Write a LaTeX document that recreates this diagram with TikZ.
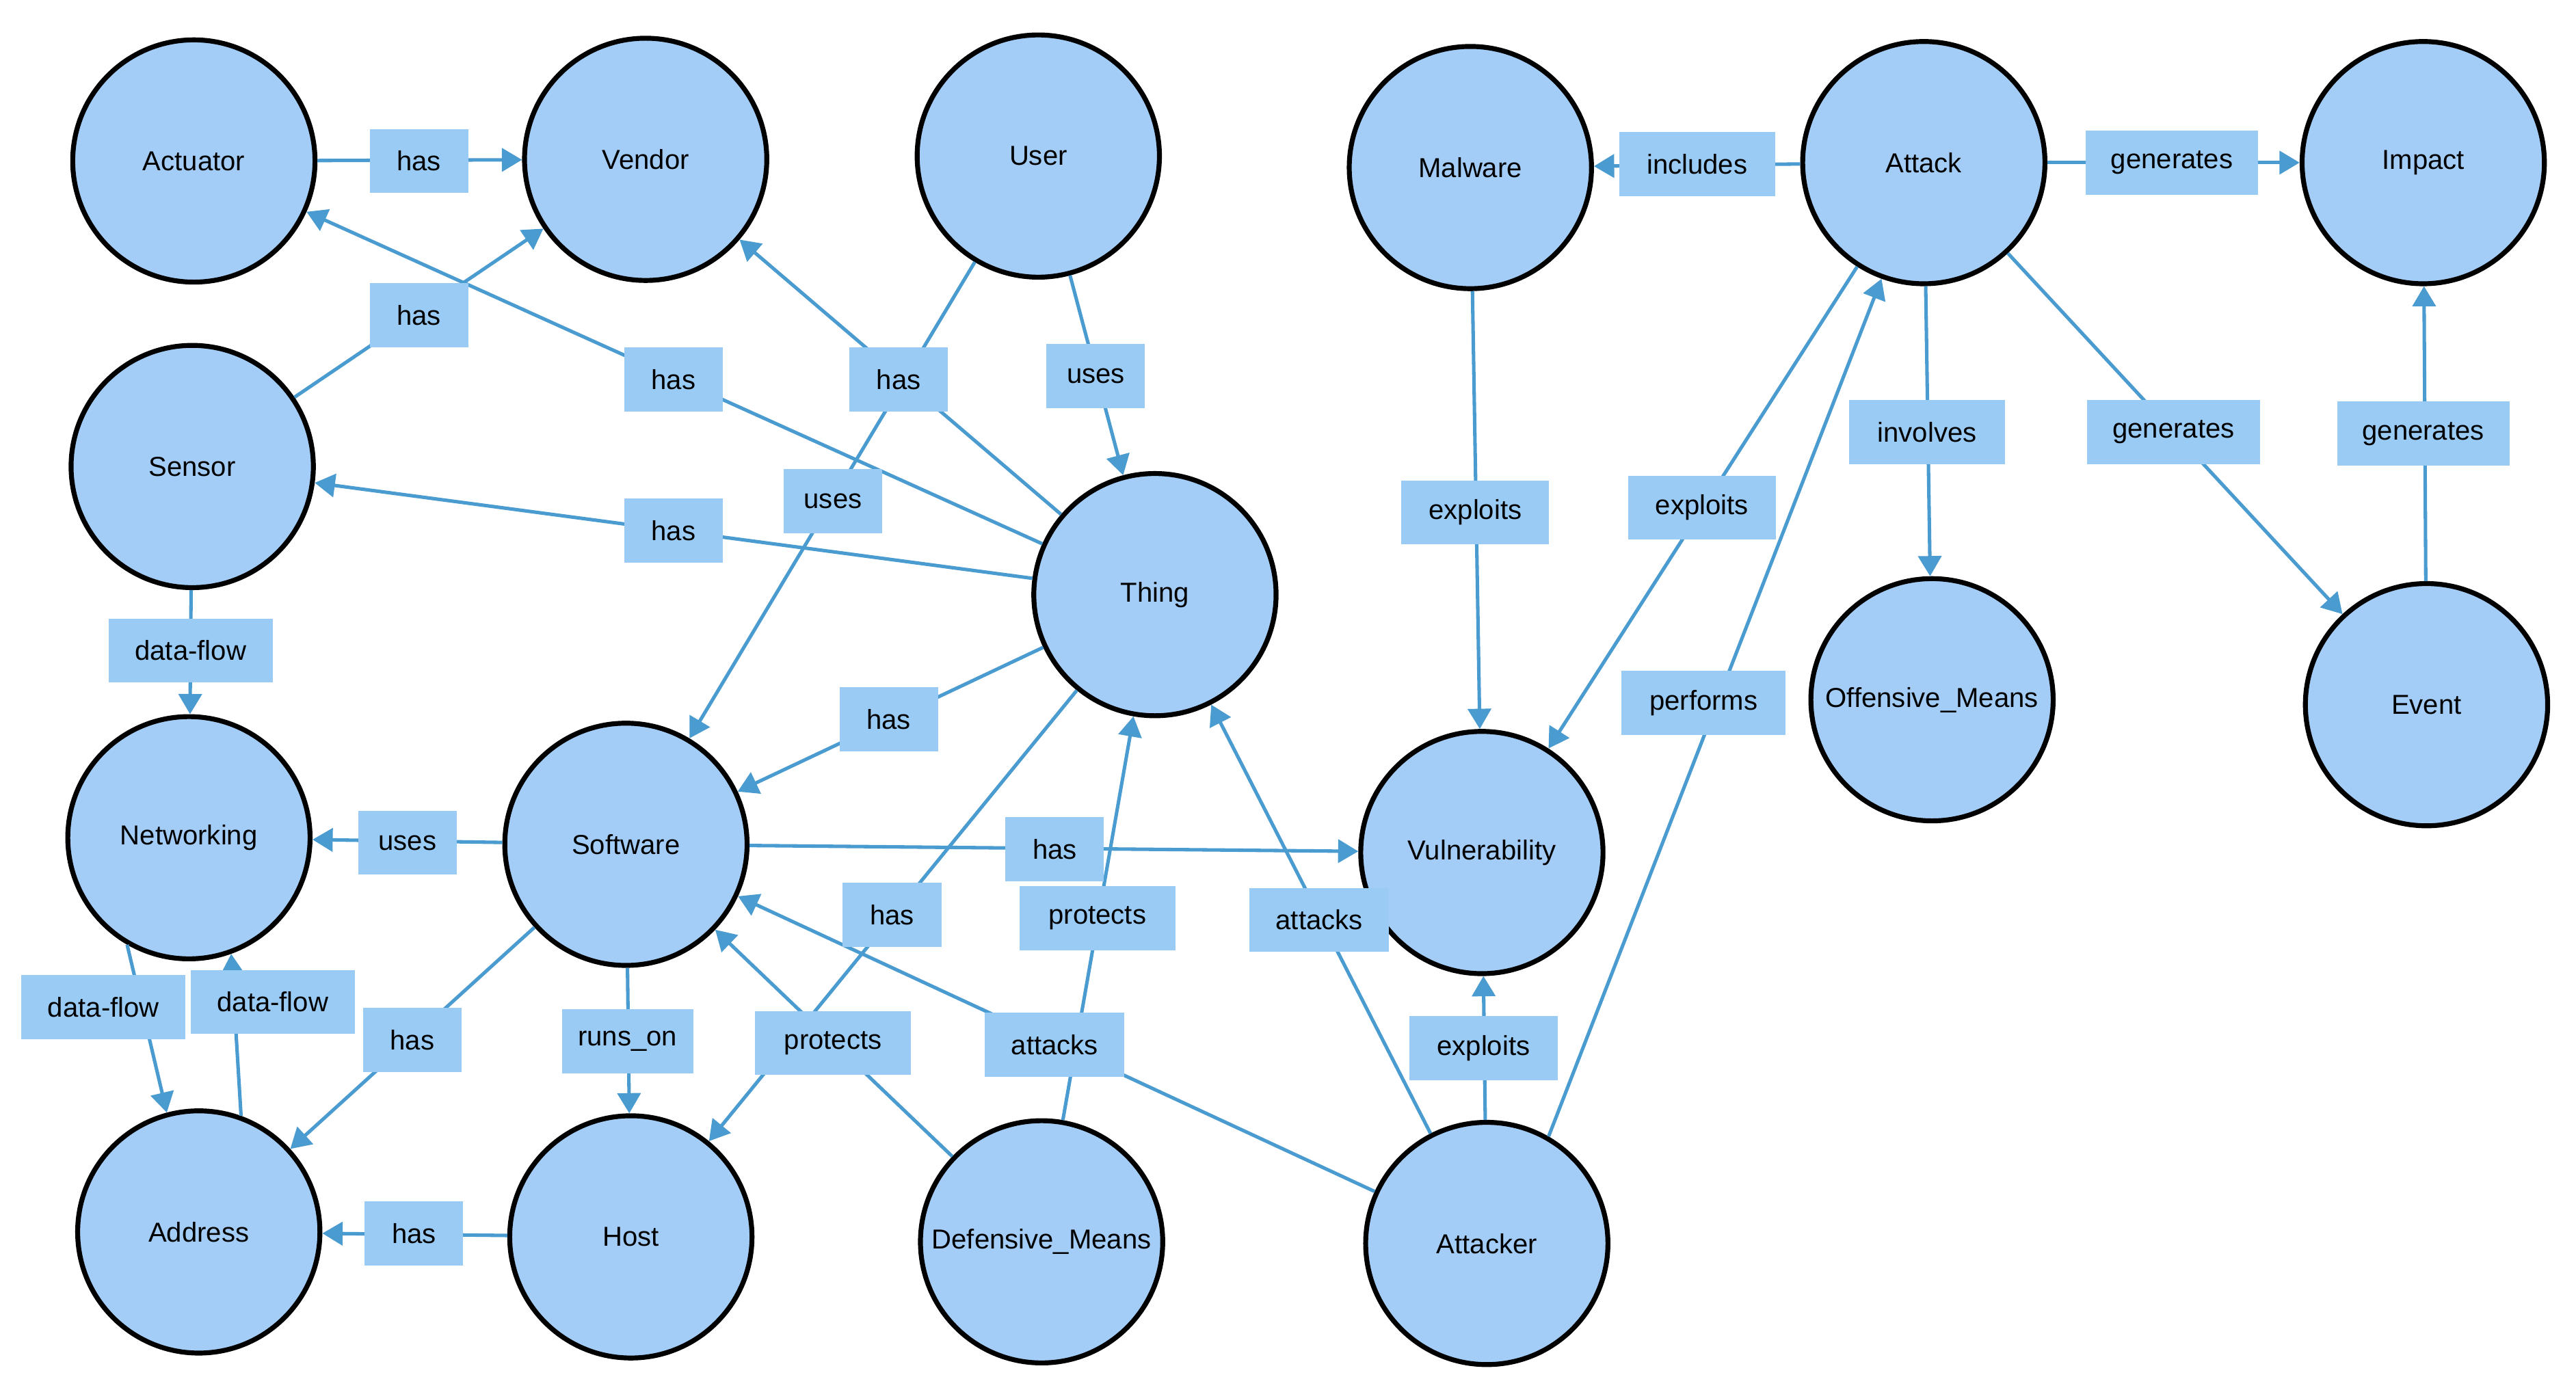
\documentclass[tikz,border=0pt]{standalone}
\usepackage{fontspec}
\setmainfont{Liberation Sans}
\usetikzlibrary{arrows.meta}
\definecolor{cfill}{HTML}{A3CDF7}
\definecolor{lfill}{HTML}{9ACBF5}
\definecolor{ecol}{HTML}{4A9BD0}
\begin{document}
\begin{tikzpicture}[x=0.02cm,y=-0.02cm,
  ent/.style={circle,draw=black,line width=1.7pt,fill=cfill,minimum size=2.95cm,inner sep=0pt,font=\fontsize{9.5}{11}\selectfont},
  lab/.style={fill=lfill,inner sep=0pt,minimum height=0.78cm,text width=#1,align=center,font=\fontsize{9.5}{11}\selectfont},
  lab/.default=1.2cm,
  e/.style={draw=ecol,line width=1.2pt,-{Triangle[length=7pt,width=8pt]}}]
\useasboundingbox[fill=white] (0,0) rectangle (1568,846);
\node[ent] (act) at (118,98) {Actuator};
\node[ent] (ven) at (393,97) {Vendor};
\node[ent] (usr) at (632,95) {User};
\node[ent] (mal) at (895,102) {Malware};
\node[ent] (atk) at (1171,99) {Attack};
\node[ent] (imp) at (1475,99) {Impact};
\node[ent] (sen) at (117,284) {Sensor};
\node[ent] (thg) at (703,362) {Thing};
\node[ent] (off) at (1176,426) {Offensive\_Means};
\node[ent] (evt) at (1477,429) {Event};
\node[ent] (net) at (115,510) {Networking};
\node[ent] (sw) at (381,514) {Software};
\node[ent] (vul) at (902,519) {Vulnerability};
\node[ent] (adr) at (121,750) {Address};
\node[ent] (hst) at (384,753) {Host};
\node[ent] (def) at (634,756) {Defensive\_Means};
\node[ent] (atr) at (905,757) {Attacker};
% edges
\draw[e] (act) -- (ven);
\draw[e] (sen) -- (ven);
\draw[e] (thg) -- (act);
\draw[e] (thg) -- (ven);
\draw[e] (usr) -- (sw);
\draw[e] (usr) -- (thg);
\draw[e] (thg) -- (sen);
\draw[e] (sen) -- (net);
\draw[e] (thg) -- (sw);
\draw[e] (sw) -- (net);
\draw[e] (sw) -- (vul);
\draw[e] (net.240) -- (adr.105);
\draw[e] (adr.70) -- (net.290);
\draw[e] (sw) -- (adr);
\draw[e] (sw) -- (hst);
\draw[e] (hst) -- (adr);
\draw[e] (def) -- (sw);
\draw[e] (thg) -- (hst);
\draw[e] (def) -- (thg.260);
\draw[e] (atr) -- (sw);
\draw[e] (atr) -- (thg);
\draw[e] (atr) -- (vul);
\draw[e] (atr.60) -- (atk.250);
\draw[e] (mal) -- (vul);
\draw[e] (atk) -- (vul);
\draw[e] (atk) -- (mal);
\draw[e] (atk) -- (imp);
\draw[e] (atk) -- (off);
\draw[e] (atk) -- (evt);
\draw[e] (evt) -- (imp);
% labels
\node[lab] (l1) at (255,98) {has};
\node[lab] (l2) at (255,192) {has};
\node[lab] (l3) at (410,231) {has};
\node[lab] (l4) at (547,231) {has};
\node[lab] (l5) at (507,305) {uses};
\node[lab] (l6) at (667,229) {uses};
\node[lab] (l7) at (410,323) {has};
\node[lab=2cm] (l8) at (116,396) {data-flow};
\node[lab] (l9) at (541,438) {has};
\node[lab] (l10) at (248,513) {uses};
\node[lab] (l11) at (642,517) {has};
\node[lab=2cm] (l12) at (63,613) {data-flow};
\node[lab=2cm] (l13) at (166,610) {data-flow};
\node[lab] (l14) at (251,633) {has};
\node[lab=1.6cm] (l15) at (382,634) {runs\_on};
\node[lab] (l16) at (252,751) {has};
\node[lab=1.9cm] (l17) at (507,635) {protects};
\node[lab] (l18) at (543,557) {has};
\node[lab=1.9cm] (l19) at (668,559) {protects};
\node[lab=1.7cm] (l20) at (642,636) {attacks};
\node[lab=1.7cm] (l21) at (803,560) {attacks};
\node[lab=1.8cm] (l22) at (903,638) {exploits};
\node[lab=2cm] (l23) at (1037,428) {performs};
\node[lab=1.8cm] (l24) at (898,312) {exploits};
\node[lab=1.8cm] (l25) at (1036,309) {exploits};
\node[lab=1.9cm] (l26) at (1033,100) {includes};
\node[lab=2.1cm] (l27) at (1322,99) {generates};
\node[lab=1.9cm] (l28) at (1173,263) {involves};
\node[lab=2.1cm] (l29) at (1323,263) {generates};
\node[lab=2.1cm] (l30) at (1475,264) {generates};
\end{tikzpicture}
\end{document}
